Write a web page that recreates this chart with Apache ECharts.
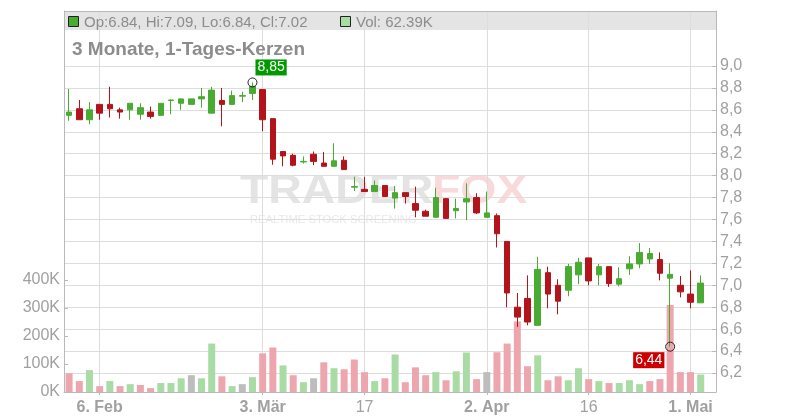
<!DOCTYPE html>
<html><head><meta charset="utf-8">
<script src="https://cdn.jsdelivr.net/npm/echarts@6/dist/echarts.min.js"></script>
<style>html,body{margin:0;padding:0;background:#fff}#c{width:800px;height:420px}</style>
</head><body><div id="c"></div>
<script>
// ---------------- data ----------------
const categories = ['03.02','04.02','05.02','06.02','07.02','10.02','11.02','12.02','13.02','14.02','17.02','18.02','19.02','20.02','21.02','24.02','25.02','26.02','27.02',
  '03.03','04.03','05.03','06.03','07.03','10.03','11.03','12.03','13.03','14.03','17.03','18.03','19.03','20.03','21.03','24.03','25.03','26.03','27.03','28.03','31.03',
  '01.04','02.04','03.04','04.04','07.04','08.04','09.04','10.04','11.04','14.04','15.04','16.04','17.04','21.04','22.04','23.04','24.04','25.04','28.04','29.04','30.04',
  '01.05','02.05','05.05'];
const opens  = [8.55,8.61,8.51,8.65,8.65,8.60,8.60,8.56,8.58,8.55,8.685,8.66,8.65,8.70,8.57,8.685,8.65,8.725,8.75,8.785,8.52,8.22,8.185,8.125,8.195,8.115,8.085,8.14,7.895,7.875,7.855,7.91,7.795,7.845,7.745,7.675,7.62,7.79,7.68,7.76,7.80,7.62,7.635,7.40,6.80,6.88,6.635,7.115,7.00,6.955,7.095,7.25,7.095,7.17,7.01,7.15,7.195,7.24,7.235,7.065,7.00,6.92,6.84];
const highs  = [8.79,8.69,8.67,8.65,8.81,8.62,8.66,8.66,8.63,8.66,8.695,8.705,8.70,8.80,8.81,8.80,8.775,8.765,8.85,8.785,8.52,8.22,8.20,8.175,8.22,8.215,8.295,8.175,7.99,7.99,7.955,7.91,7.905,7.845,7.90,7.69,7.89,7.79,7.79,7.93,7.84,7.855,7.655,7.40,6.93,7.09,7.26,7.17,7.055,7.195,7.25,7.25,7.195,7.17,7.165,7.265,7.385,7.34,7.30,7.20,7.085,7.135,7.09];
const lows   = [8.50,8.51,8.47,8.51,8.53,8.52,8.51,8.51,8.52,8.55,8.56,8.60,8.65,8.62,8.57,8.45,8.65,8.67,8.69,8.405,8.10,8.085,8.085,8.11,8.095,8.085,8.085,8.055,7.86,7.855,7.85,7.81,7.70,7.745,7.62,7.63,7.62,7.61,7.61,7.595,7.65,7.62,7.345,6.80,6.62,6.635,6.635,6.79,6.735,6.90,7.01,7.00,7.00,6.985,6.99,7.095,7.155,7.195,7.045,6.44,6.89,6.79,6.84];
const closes = [8.58,8.51,8.60,8.57,8.61,8.58,8.66,8.62,8.54,8.66,8.69,8.70,8.70,8.72,8.78,8.65,8.73,8.73,8.815,8.51,8.15,8.18,8.095,8.13,8.13,8.085,8.135,8.055,7.90,7.855,7.91,7.81,7.845,7.81,7.685,7.63,7.80,7.61,7.70,7.79,7.66,7.66,7.47,6.93,6.71,6.665,7.145,6.92,6.855,7.17,7.21,7.04,7.17,7.015,7.06,7.195,7.30,7.29,7.11,7.10,6.94,6.845,7.02];
const volumes = [67000,39000,78000,21000,39000,21000,28000,25000,14000,32000,32000,49000,60000,49000,173000,56000,21000,28000,53000,138000,159000,95000,60000,35000,49000,106000,85000,81000,116000,71000,39000,49000,134000,
  35000,88000,60000,71000,42000,74000,141000,46000,71000,142000,173000,252000,92000,131000,42000,56000,42000,85000,46000,39000,32000,32000,42000,28000,39000,46000,311000,71000,71000,62390];
const prevClose = 8.62;   // close of the session before the first candle (estimated)
const tickDates  = ['06.02','03.03','17.03','02.04','16.04','01.05'];
const tickLabels = ['6. Feb','3. Mär','17','2. Apr','16','1. Mai'];
const tickBold   = [true,true,false,true,false,true];
const priceAxis  = {min:6.2, max:9.0, step:0.2};
const volumeAxis = {min:0, max:400000, step:100000};
const titleText = '3 Monate, 1-Tages-Kerzen';

// ---------------- styles ----------------
const UP='#49ab31', DN='#b3141b';
const VOL_UP='#a9dba5', VOL_DN='#eea6ae', VOL_EQ='#bdbdbd';
const GRID='#dddddd', AXIS='#b9b9b9', LBL='#a0a0a0', TXT='#8c8c8c';
const FONT='"Liberation Sans", Arial, Helvetica, sans-serif';
const L=64, R=84;

const last = opens.length-1;
const candles = opens.map((o,i)=>[o,closes[i],lows[i],highs[i]]);
const volData = volumes.map((v,i)=>{
  const pc = i===0?prevClose:closes[i-1];
  const d = Math.round((closes[i]-pc)*1000);
  return {value:v,itemStyle:{color:d>0?VOL_UP:(d<0?VOL_DN:VOL_EQ)}};
});
let iMax=0,iMin=0;
highs.forEach((h,i)=>{if(h>highs[iMax])iMax=i;});
lows.forEach((l,i)=>{if(l<lows[iMin])iMin=i;});
const comma=(v,d)=>v.toFixed(d).replace('.',',');
const tickIdx = tickDates.map(d=>categories.indexOf(d));
const fmtVol = v => (v>=1000 ? (v/1000).toFixed(2).replace(/\.?0+$/,'')+'K' : v);

const chart = echarts.init(document.getElementById('c'),null,{renderer:'canvas'});
chart.setOption({
  animation:false,
  textStyle:{fontFamily:FONT},
  grid:[
    {left:L,right:R,top:11,bottom:28},
    {left:L,right:R,top:66,bottom:47},
    {left:L,right:R,top:280,bottom:28}
  ],
  xAxis:[
    {type:'category',gridIndex:0,data:categories,boundaryGap:true,
     axisLine:{lineStyle:{color:AXIS}},
     axisTick:{show:true,inside:true,length:381,alignWithLabel:true,interval:(i)=>tickIdx.includes(i),lineStyle:{color:GRID}},
     axisLabel:{interval:(i)=>tickIdx.includes(i),margin:8,color:LBL,fontSize:16,
       formatter:(val)=>{const k=tickDates.indexOf(val);if(k<0)return '';return tickBold[k]?'{b|'+tickLabels[k]+'}':'{n|'+tickLabels[k]+'}';},
       rich:{b:{fontWeight:'bold',fontSize:16,color:LBL,fontFamily:FONT},n:{fontSize:16,color:LBL,fontFamily:FONT}}},
     splitLine:{show:false}},
    {type:'category',gridIndex:1,data:categories,boundaryGap:true,show:false},
    {type:'category',gridIndex:2,data:categories,boundaryGap:true,show:false},
    {type:'category',gridIndex:0,data:categories,boundaryGap:true,position:'bottom',
     axisLine:{show:false},axisLabel:{show:false},
     axisTick:{show:true,length:3,alignWithLabel:true,interval:(i)=>tickIdx.includes(i),lineStyle:{color:AXIS}}}
  ],
  yAxis:[
    {type:'value',gridIndex:0,position:'left',min:0,max:1,axisLine:{show:true,lineStyle:{color:AXIS}},axisTick:{show:false},axisLabel:{show:false},splitLine:{show:false}},
    {type:'value',gridIndex:0,position:'right',min:0,max:1,axisLine:{show:true,lineStyle:{color:AXIS}},axisTick:{show:false},axisLabel:{show:false},splitLine:{show:false}},
    {type:'value',gridIndex:1,position:'right',min:priceAxis.min,max:priceAxis.max,interval:priceAxis.step,
     axisLine:{show:false},axisTick:{show:true,inside:true,length:4,lineStyle:{color:AXIS}},
     axisLabel:{color:LBL,fontSize:16,margin:4,padding:[4,0,0,0],formatter:(v)=>comma(v,1)},
     splitLine:{show:true,lineStyle:{color:GRID}}},
    {type:'value',gridIndex:2,position:'left',min:volumeAxis.min,max:volumeAxis.max,interval:volumeAxis.step,
     axisLine:{show:false},axisTick:{show:true,inside:true,length:4,lineStyle:{color:AXIS}},
     axisLabel:{color:LBL,fontSize:16,margin:4,padding:[4,0,0,0],formatter:(v)=>(v/1000)+'K'},
     splitLine:{show:false}}
  ],
  series:[
    {type:'bar',xAxisIndex:2,yAxisIndex:3,data:volData,barWidth:7,z:2},
    {type:'candlestick',xAxisIndex:1,yAxisIndex:2,data:candles,barWidth:6,z:3,
     itemStyle:{color:UP,color0:DN,borderColor:UP,borderColor0:DN,borderWidth:1},
     markPoint:{symbol:'circle',symbolSize:9,z:10,
       itemStyle:{color:'rgba(0,0,0,0)',borderColor:'#222',borderWidth:1},
       data:[
         {coord:[iMax,highs[iMax]],value:highs[iMax],
          label:{show:true,position:[8,-18],formatter:()=>comma(highs[iMax],2),color:'#fff',fontSize:14,fontFamily:FONT,backgroundColor:'#009a00',padding:[1,2]}},
         {coord:[iMin,lows[iMin]],value:lows[iMin],
          label:{show:true,position:[-32,10.5],formatter:()=>comma(lows[iMin],2),color:'#fff',fontSize:14,fontFamily:FONT,backgroundColor:'#cc0000',padding:[1,2]}}
       ]}}
  ],
  graphic:[
    {type:'rect',z:-10,shape:{x:L,y:11,width:800-L-R,height:19},style:{fill:'#e4e4e4'}},
    {type:'line',z:5,shape:{x1:L,y1:11.5,x2:800-R,y2:11.5},style:{stroke:AXIS,lineWidth:1}},
    {type:'rect',z:5,shape:{x:68.5,y:16.5,width:10,height:10},style:{fill:UP,stroke:'#222',lineWidth:1}},
    {type:'text',z:5,x:84,y:23,style:{text:'Op:'+opens[last].toFixed(2)+', Hi:'+highs[last].toFixed(2)+', Lo:'+lows[last].toFixed(2)+', Cl:'+closes[last].toFixed(2),font:'15px '+FONT,fill:TXT,verticalAlign:'middle'}},
    {type:'rect',z:5,shape:{x:340.5,y:16.5,width:10,height:10},style:{fill:VOL_UP,stroke:'#222',lineWidth:1}},
    {type:'text',z:5,x:356,y:23,style:{text:'Vol: '+fmtVol(volumes[last]),font:'15px '+FONT,fill:TXT,verticalAlign:'middle'}},
    {type:'text',z:5,x:72,y:49.5,style:{text:titleText,font:'bold 19px '+FONT,fill:TXT,verticalAlign:'middle'}},
    {type:'text',z:-5,x:240,y:192,scaleX:1.16,style:{text:'TRADER',font:'bold 40px '+FONT,fill:'#e4e4e4',verticalAlign:'middle'}},
    {type:'text',z:-5,x:432,y:192,scaleX:1.16,style:{text:'FOX',font:'bold 40px '+FONT,fill:'#f9d9d9',verticalAlign:'middle'}},
    {type:'text',z:-5,x:250,y:220,scaleX:1.02,style:{text:'REALTIME STOCK SCREENING',font:'11px '+FONT,fill:'#e9e9e9',verticalAlign:'middle'}}
  ]
});
</script></body></html>
